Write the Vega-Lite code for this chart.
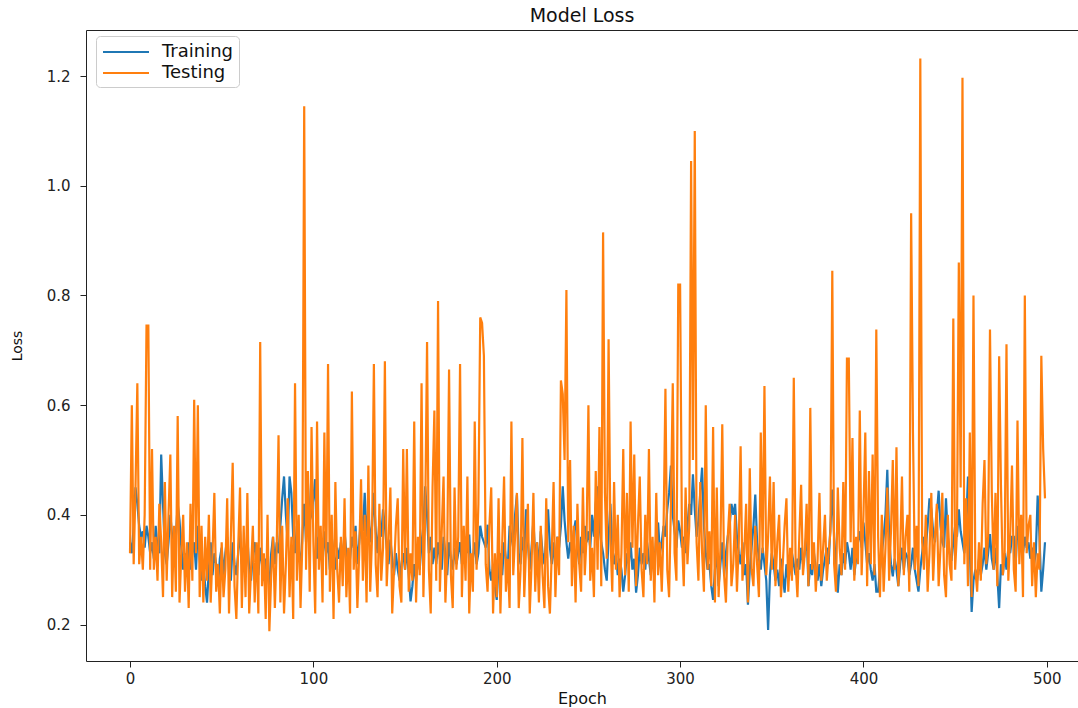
{
"$schema":"https://vega.github.io/schema/vega-lite/v6.json",
"width":992,"height":631,
"autosize":{"type":"none"},
"padding":{"left":86,"top":30,"right":0,"bottom":47},
"background":"white",
"title":{"text":"Model Loss","fontSize":19,"font":"DejaVu Sans","fontWeight":"normal","color":"#111","offset":-11,"baseline":"alphabetic","frame":"group","anchor":"middle"},
"data":{"values":[
{"e":0,"Training":0.35,"Testing":0.33},{"e":1,"Training":0.33,"Testing":0.60},{"e":2,"Training":0.38,"Testing":0.31},{"e":3,"Training":0.45,"Testing":0.45},{"e":4,"Training":0.42,"Testing":0.64},{"e":5,"Training":0.38,"Testing":0.31},{"e":6,"Training":0.36,"Testing":0.36},{"e":7,"Training":0.37,"Testing":0.30},{"e":8,"Training":0.34,"Testing":0.40},{"e":9,"Training":0.38,"Testing":0.745},
{"e":10,"Training":0.36,"Testing":0.745},{"e":11,"Training":0.33,"Testing":0.30},{"e":12,"Training":0.35,"Testing":0.52},{"e":13,"Training":0.32,"Testing":0.30},{"e":14,"Training":0.38,"Testing":0.36},{"e":15,"Training":0.34,"Testing":0.28},{"e":16,"Training":0.33,"Testing":0.42},{"e":17,"Training":0.51,"Testing":0.35},{"e":18,"Training":0.42,"Testing":0.25},{"e":19,"Training":0.33,"Testing":0.46},
{"e":20,"Training":0.31,"Testing":0.28},{"e":21,"Training":0.35,"Testing":0.40},{"e":22,"Training":0.40,"Testing":0.51},{"e":23,"Training":0.36,"Testing":0.25},{"e":24,"Training":0.31,"Testing":0.38},{"e":25,"Training":0.36,"Testing":0.26},{"e":26,"Training":0.42,"Testing":0.58},{"e":27,"Training":0.39,"Testing":0.24},{"e":28,"Training":0.34,"Testing":0.33},{"e":29,"Training":0.30,"Testing":0.40},
{"e":30,"Training":0.33,"Testing":0.26},{"e":31,"Training":0.29,"Testing":0.35},{"e":32,"Training":0.35,"Testing":0.23},{"e":33,"Training":0.30,"Testing":0.42},{"e":34,"Training":0.33,"Testing":0.28},{"e":35,"Training":0.35,"Testing":0.61},{"e":36,"Training":0.30,"Testing":0.33},{"e":37,"Training":0.38,"Testing":0.60},{"e":38,"Training":0.32,"Testing":0.25},{"e":39,"Training":0.28,"Testing":0.38},
{"e":40,"Training":0.31,"Testing":0.24},{"e":41,"Training":0.27,"Testing":0.36},{"e":42,"Training":0.24,"Testing":0.28},{"e":43,"Training":0.30,"Testing":0.40},{"e":44,"Training":0.35,"Testing":0.24},{"e":45,"Training":0.29,"Testing":0.33},{"e":46,"Training":0.33,"Testing":0.44},{"e":47,"Training":0.31,"Testing":0.26},{"e":48,"Training":0.27,"Testing":0.31},{"e":49,"Training":0.32,"Testing":0.22},
{"e":50,"Training":0.34,"Testing":0.35},{"e":51,"Training":0.29,"Testing":0.25},{"e":52,"Training":0.33,"Testing":0.30},{"e":53,"Training":0.36,"Testing":0.43},{"e":54,"Training":0.30,"Testing":0.22},{"e":55,"Training":0.28,"Testing":0.36},{"e":56,"Training":0.35,"Testing":0.495},{"e":57,"Training":0.31,"Testing":0.27},{"e":58,"Training":0.29,"Testing":0.21},{"e":59,"Training":0.33,"Testing":0.34},
{"e":60,"Training":0.37,"Testing":0.45},{"e":61,"Training":0.31,"Testing":0.23},{"e":62,"Training":0.34,"Testing":0.38},{"e":63,"Training":0.29,"Testing":0.25},{"e":64,"Training":0.36,"Testing":0.44},{"e":65,"Training":0.30,"Testing":0.22},{"e":66,"Training":0.28,"Testing":0.30},{"e":67,"Training":0.33,"Testing":0.38},{"e":68,"Training":0.35,"Testing":0.24},{"e":69,"Training":0.30,"Testing":0.35},
{"e":70,"Training":0.29,"Testing":0.22},{"e":71,"Training":0.34,"Testing":0.715},{"e":72,"Training":0.31,"Testing":0.27},{"e":73,"Training":0.28,"Testing":0.33},{"e":74,"Training":0.32,"Testing":0.21},{"e":75,"Training":0.30,"Testing":0.40},{"e":76,"Training":0.27,"Testing":0.188},{"e":77,"Training":0.33,"Testing":0.29},{"e":78,"Training":0.36,"Testing":0.36},{"e":79,"Training":0.31,"Testing":0.23},
{"e":80,"Training":0.35,"Testing":0.34},{"e":81,"Training":0.33,"Testing":0.545},{"e":82,"Training":0.38,"Testing":0.24},{"e":83,"Training":0.43,"Testing":0.38},{"e":84,"Training":0.47,"Testing":0.22},{"e":85,"Training":0.40,"Testing":0.31},{"e":86,"Training":0.35,"Testing":0.43},{"e":87,"Training":0.47,"Testing":0.25},{"e":88,"Training":0.44,"Testing":0.36},{"e":89,"Training":0.36,"Testing":0.21},
{"e":90,"Training":0.33,"Testing":0.64},{"e":91,"Training":0.38,"Testing":0.28},{"e":92,"Training":0.34,"Testing":0.40},{"e":93,"Training":0.30,"Testing":0.23},{"e":94,"Training":0.36,"Testing":0.35},{"e":95,"Training":0.42,"Testing":1.145},{"e":96,"Training":0.35,"Testing":0.30},{"e":97,"Training":0.46,"Testing":0.48},{"e":98,"Training":0.39,"Testing":0.26},{"e":99,"Training":0.40,"Testing":0.56},
{"e":100,"Training":0.43,"Testing":0.35},{"e":101,"Training":0.465,"Testing":0.22},{"e":102,"Training":0.32,"Testing":0.57},{"e":103,"Training":0.36,"Testing":0.30},{"e":104,"Training":0.34,"Testing":0.38},{"e":105,"Training":0.31,"Testing":0.24},{"e":106,"Training":0.37,"Testing":0.55},{"e":107,"Training":0.33,"Testing":0.29},{"e":108,"Training":0.35,"Testing":0.675},{"e":109,"Training":0.30,"Testing":0.26},
{"e":110,"Training":0.36,"Testing":0.40},{"e":111,"Training":0.33,"Testing":0.21},{"e":112,"Training":0.30,"Testing":0.46},{"e":113,"Training":0.34,"Testing":0.30},{"e":114,"Training":0.32,"Testing":0.24},{"e":115,"Training":0.35,"Testing":0.36},{"e":116,"Training":0.31,"Testing":0.27},{"e":117,"Training":0.37,"Testing":0.43},{"e":118,"Training":0.33,"Testing":0.25},{"e":119,"Training":0.29,"Testing":0.34},
{"e":120,"Training":0.32,"Testing":0.22},{"e":121,"Training":0.36,"Testing":0.625},{"e":122,"Training":0.34,"Testing":0.30},{"e":123,"Training":0.38,"Testing":0.37},{"e":124,"Training":0.31,"Testing":0.23},{"e":125,"Training":0.35,"Testing":0.33},{"e":126,"Training":0.40,"Testing":0.465},{"e":127,"Training":0.37,"Testing":0.28},{"e":128,"Training":0.44,"Testing":0.40},{"e":129,"Training":0.36,"Testing":0.24},
{"e":130,"Training":0.41,"Testing":0.49},{"e":131,"Training":0.35,"Testing":0.26},{"e":132,"Training":0.38,"Testing":0.36},{"e":133,"Training":0.44,"Testing":0.675},{"e":134,"Training":0.37,"Testing":0.31},{"e":135,"Training":0.33,"Testing":0.25},{"e":136,"Training":0.39,"Testing":0.42},{"e":137,"Training":0.36,"Testing":0.28},{"e":138,"Training":0.41,"Testing":0.34},{"e":139,"Training":0.38,"Testing":0.68},
{"e":140,"Training":0.34,"Testing":0.27},{"e":141,"Training":0.31,"Testing":0.35},{"e":142,"Training":0.355,"Testing":0.45},{"e":143,"Training":0.32,"Testing":0.22},{"e":144,"Training":0.29,"Testing":0.30},{"e":145,"Training":0.33,"Testing":0.38},{"e":146,"Training":0.30,"Testing":0.43},{"e":147,"Training":0.28,"Testing":0.27},{"e":148,"Training":0.31,"Testing":0.24},{"e":149,"Training":0.33,"Testing":0.52},
{"e":150,"Training":0.30,"Testing":0.30},{"e":151,"Training":0.34,"Testing":0.52},{"e":152,"Training":0.29,"Testing":0.26},{"e":153,"Training":0.242,"Testing":0.33},{"e":154,"Training":0.27,"Testing":0.28},{"e":155,"Training":0.31,"Testing":0.57},{"e":156,"Training":0.28,"Testing":0.24},{"e":157,"Training":0.33,"Testing":0.36},{"e":158,"Training":0.30,"Testing":0.29},{"e":159,"Training":0.35,"Testing":0.64},
{"e":160,"Training":0.38,"Testing":0.25},{"e":161,"Training":0.452,"Testing":0.40},{"e":162,"Training":0.40,"Testing":0.715},{"e":163,"Training":0.33,"Testing":0.30},{"e":164,"Training":0.36,"Testing":0.22},{"e":165,"Training":0.31,"Testing":0.45},{"e":166,"Training":0.34,"Testing":0.59},{"e":167,"Training":0.31,"Testing":0.28},{"e":168,"Training":0.35,"Testing":0.79},{"e":169,"Training":0.32,"Testing":0.26},
{"e":170,"Training":0.30,"Testing":0.37},{"e":171,"Training":0.36,"Testing":0.47},{"e":172,"Training":0.33,"Testing":0.24},{"e":173,"Training":0.29,"Testing":0.33},{"e":174,"Training":0.35,"Testing":0.665},{"e":175,"Training":0.32,"Testing":0.29},{"e":176,"Training":0.30,"Testing":0.23},{"e":177,"Training":0.34,"Testing":0.45},{"e":178,"Training":0.31,"Testing":0.30},{"e":179,"Training":0.33,"Testing":0.36},
{"e":180,"Training":0.35,"Testing":0.675},{"e":181,"Training":0.31,"Testing":0.25},{"e":182,"Training":0.34,"Testing":0.38},{"e":183,"Training":0.36,"Testing":0.28},{"e":184,"Training":0.33,"Testing":0.47},{"e":185,"Training":0.364,"Testing":0.22},{"e":186,"Training":0.30,"Testing":0.33},{"e":187,"Training":0.32,"Testing":0.26},{"e":188,"Training":0.35,"Testing":0.57},{"e":189,"Training":0.31,"Testing":0.30},
{"e":190,"Training":0.33,"Testing":0.42},{"e":191,"Training":0.38,"Testing":0.76},{"e":192,"Training":0.36,"Testing":0.75},{"e":193,"Training":0.35,"Testing":0.69},{"e":194,"Training":0.34,"Testing":0.31},{"e":195,"Training":0.382,"Testing":0.26},{"e":196,"Training":0.30,"Testing":0.38},{"e":197,"Training":0.28,"Testing":0.45},{"e":198,"Training":0.31,"Testing":0.22},{"e":199,"Training":0.27,"Testing":0.33},
{"e":200,"Training":0.245,"Testing":0.25},{"e":201,"Training":0.31,"Testing":0.43},{"e":202,"Training":0.33,"Testing":0.22},{"e":203,"Training":0.29,"Testing":0.35},{"e":204,"Training":0.35,"Testing":0.47},{"e":205,"Training":0.32,"Testing":0.26},{"e":206,"Training":0.30,"Testing":0.32},{"e":207,"Training":0.38,"Testing":0.23},{"e":208,"Training":0.36,"Testing":0.57},{"e":209,"Training":0.34,"Testing":0.29},
{"e":210,"Training":0.40,"Testing":0.36},{"e":211,"Training":0.437,"Testing":0.44},{"e":212,"Training":0.33,"Testing":0.23},{"e":213,"Training":0.31,"Testing":0.30},{"e":214,"Training":0.36,"Testing":0.54},{"e":215,"Training":0.33,"Testing":0.25},{"e":216,"Training":0.41,"Testing":0.34},{"e":217,"Training":0.35,"Testing":0.42},{"e":218,"Training":0.30,"Testing":0.22},{"e":219,"Training":0.34,"Testing":0.31},
{"e":220,"Training":0.39,"Testing":0.44},{"e":221,"Training":0.32,"Testing":0.26},{"e":222,"Training":0.35,"Testing":0.35},{"e":223,"Training":0.30,"Testing":0.24},{"e":224,"Training":0.37,"Testing":0.38},{"e":225,"Training":0.33,"Testing":0.29},{"e":226,"Training":0.31,"Testing":0.23},{"e":227,"Training":0.36,"Testing":0.43},{"e":228,"Training":0.41,"Testing":0.27},{"e":229,"Training":0.34,"Testing":0.22},
{"e":230,"Training":0.31,"Testing":0.33},{"e":231,"Training":0.35,"Testing":0.46},{"e":232,"Training":0.30,"Testing":0.25},{"e":233,"Training":0.36,"Testing":0.36},{"e":234,"Training":0.34,"Testing":0.29},{"e":235,"Training":0.38,"Testing":0.645},{"e":236,"Training":0.452,"Testing":0.62},{"e":237,"Training":0.39,"Testing":0.50},{"e":238,"Training":0.35,"Testing":0.81},{"e":239,"Training":0.32,"Testing":0.35},
{"e":240,"Training":0.35,"Testing":0.50},{"e":241,"Training":0.33,"Testing":0.27},{"e":242,"Training":0.37,"Testing":0.38},{"e":243,"Training":0.39,"Testing":0.24},{"e":244,"Training":0.34,"Testing":0.42},{"e":245,"Training":0.31,"Testing":0.31},{"e":246,"Training":0.36,"Testing":0.26},{"e":247,"Training":0.33,"Testing":0.45},{"e":248,"Training":0.38,"Testing":0.29},{"e":249,"Training":0.35,"Testing":0.36},
{"e":250,"Training":0.37,"Testing":0.60},{"e":251,"Training":0.34,"Testing":0.28},{"e":252,"Training":0.40,"Testing":0.34},{"e":253,"Training":0.36,"Testing":0.25},{"e":254,"Training":0.42,"Testing":0.48},{"e":255,"Training":0.452,"Testing":0.30},{"e":256,"Training":0.38,"Testing":0.56},{"e":257,"Training":0.35,"Testing":0.27},{"e":258,"Training":0.33,"Testing":0.915},{"e":259,"Training":0.30,"Testing":0.44},
{"e":260,"Training":0.28,"Testing":0.32},{"e":261,"Training":0.36,"Testing":0.72},{"e":262,"Training":0.42,"Testing":0.36},{"e":263,"Training":0.34,"Testing":0.26},{"e":264,"Training":0.31,"Testing":0.46},{"e":265,"Training":0.33,"Testing":0.30},{"e":266,"Training":0.29,"Testing":0.40},{"e":267,"Training":0.32,"Testing":0.25},{"e":268,"Training":0.30,"Testing":0.33},{"e":269,"Training":0.26,"Testing":0.52},
{"e":270,"Training":0.29,"Testing":0.29},{"e":271,"Training":0.33,"Testing":0.44},{"e":272,"Training":0.31,"Testing":0.26},{"e":273,"Training":0.35,"Testing":0.57},{"e":274,"Training":0.30,"Testing":0.34},{"e":275,"Training":0.32,"Testing":0.51},{"e":276,"Training":0.258,"Testing":0.27},{"e":277,"Training":0.29,"Testing":0.38},{"e":278,"Training":0.34,"Testing":0.47},{"e":279,"Training":0.31,"Testing":0.30},
{"e":280,"Training":0.33,"Testing":0.25},{"e":281,"Training":0.30,"Testing":0.40},{"e":282,"Training":0.35,"Testing":0.31},{"e":283,"Training":0.32,"Testing":0.52},{"e":284,"Training":0.29,"Testing":0.28},{"e":285,"Training":0.34,"Testing":0.36},{"e":286,"Training":0.31,"Testing":0.24},{"e":287,"Training":0.36,"Testing":0.44},{"e":288,"Training":0.386,"Testing":0.29},{"e":289,"Training":0.33,"Testing":0.35},
{"e":290,"Training":0.35,"Testing":0.26},{"e":291,"Training":0.38,"Testing":0.38},{"e":292,"Training":0.36,"Testing":0.63},{"e":293,"Training":0.41,"Testing":0.30},{"e":294,"Training":0.44,"Testing":0.25},{"e":295,"Training":0.49,"Testing":0.42},{"e":296,"Training":0.40,"Testing":0.64},{"e":297,"Training":0.37,"Testing":0.33},{"e":298,"Training":0.34,"Testing":0.28},{"e":299,"Training":0.39,"Testing":0.82},
{"e":300,"Training":0.37,"Testing":0.82},{"e":301,"Training":0.34,"Testing":0.36},{"e":302,"Training":0.36,"Testing":0.27},{"e":303,"Training":0.33,"Testing":0.45},{"e":304,"Training":0.38,"Testing":0.31},{"e":305,"Training":0.42,"Testing":0.38},{"e":306,"Training":0.40,"Testing":1.045},{"e":307,"Training":0.474,"Testing":0.50},{"e":308,"Training":0.41,"Testing":1.10},{"e":309,"Training":0.36,"Testing":0.35},
{"e":310,"Training":0.39,"Testing":0.28},{"e":311,"Training":0.44,"Testing":0.46},{"e":312,"Training":0.486,"Testing":0.33},{"e":313,"Training":0.38,"Testing":0.26},{"e":314,"Training":0.33,"Testing":0.60},{"e":315,"Training":0.30,"Testing":0.30},{"e":316,"Training":0.31,"Testing":0.37},{"e":317,"Training":0.27,"Testing":0.27},{"e":318,"Training":0.245,"Testing":0.56},{"e":319,"Training":0.30,"Testing":0.24},
{"e":320,"Training":0.33,"Testing":0.45},{"e":321,"Training":0.27,"Testing":0.25},{"e":322,"Training":0.31,"Testing":0.34},{"e":323,"Training":0.35,"Testing":0.565},{"e":324,"Training":0.29,"Testing":0.29},{"e":325,"Training":0.33,"Testing":0.24},{"e":326,"Training":0.36,"Testing":0.36},{"e":327,"Training":0.38,"Testing":0.42},{"e":328,"Training":0.42,"Testing":0.27},{"e":329,"Training":0.40,"Testing":0.31},
{"e":330,"Training":0.42,"Testing":0.40},{"e":331,"Training":0.36,"Testing":0.26},{"e":332,"Training":0.33,"Testing":0.35},{"e":333,"Training":0.31,"Testing":0.525},{"e":334,"Training":0.35,"Testing":0.28},{"e":335,"Training":0.29,"Testing":0.33},{"e":336,"Training":0.31,"Testing":0.42},{"e":337,"Training":0.236,"Testing":0.24},{"e":338,"Training":0.30,"Testing":0.485},{"e":339,"Training":0.34,"Testing":0.30},
{"e":340,"Training":0.38,"Testing":0.27},{"e":341,"Training":0.437,"Testing":0.38},{"e":342,"Training":0.35,"Testing":0.31},{"e":343,"Training":0.32,"Testing":0.25},{"e":344,"Training":0.30,"Testing":0.55},{"e":345,"Training":0.34,"Testing":0.33},{"e":346,"Training":0.31,"Testing":0.635},{"e":347,"Training":0.28,"Testing":0.29},{"e":348,"Training":0.19,"Testing":0.36},{"e":349,"Training":0.29,"Testing":0.47},
{"e":350,"Training":0.33,"Testing":0.30},{"e":351,"Training":0.31,"Testing":0.46},{"e":352,"Training":0.28,"Testing":0.27},{"e":353,"Training":0.30,"Testing":0.35},{"e":354,"Training":0.27,"Testing":0.40},{"e":355,"Training":0.32,"Testing":0.25},{"e":356,"Training":0.29,"Testing":0.31},{"e":357,"Training":0.258,"Testing":0.38},{"e":358,"Training":0.31,"Testing":0.43},{"e":359,"Training":0.28,"Testing":0.26},
{"e":360,"Training":0.30,"Testing":0.34},{"e":361,"Training":0.33,"Testing":0.28},{"e":362,"Training":0.31,"Testing":0.65},{"e":363,"Training":0.29,"Testing":0.31},{"e":364,"Training":0.32,"Testing":0.25},{"e":365,"Training":0.30,"Testing":0.36},{"e":366,"Training":0.34,"Testing":0.455},{"e":367,"Training":0.31,"Testing":0.29},{"e":368,"Training":0.33,"Testing":0.33},{"e":369,"Training":0.37,"Testing":0.42},
{"e":370,"Training":0.27,"Testing":0.27},{"e":371,"Training":0.31,"Testing":0.595},{"e":372,"Training":0.29,"Testing":0.30},{"e":373,"Training":0.33,"Testing":0.35},{"e":374,"Training":0.30,"Testing":0.26},{"e":375,"Training":0.28,"Testing":0.32},{"e":376,"Training":0.31,"Testing":0.44},{"e":377,"Training":0.27,"Testing":0.28},{"e":378,"Training":0.30,"Testing":0.34},{"e":379,"Training":0.32,"Testing":0.40},
{"e":380,"Training":0.34,"Testing":0.28},{"e":381,"Training":0.31,"Testing":0.33},{"e":382,"Training":0.38,"Testing":0.37},{"e":383,"Training":0.446,"Testing":0.845},{"e":384,"Training":0.36,"Testing":0.31},{"e":385,"Training":0.31,"Testing":0.26},{"e":386,"Training":0.258,"Testing":0.45},{"e":387,"Training":0.31,"Testing":0.34},{"e":388,"Training":0.29,"Testing":0.29},{"e":389,"Training":0.33,"Testing":0.46},
{"e":390,"Training":0.31,"Testing":0.30},{"e":391,"Training":0.35,"Testing":0.685},{"e":392,"Training":0.33,"Testing":0.685},{"e":393,"Training":0.30,"Testing":0.35},{"e":394,"Training":0.34,"Testing":0.54},{"e":395,"Training":0.29,"Testing":0.28},{"e":396,"Training":0.32,"Testing":0.36},{"e":397,"Training":0.35,"Testing":0.31},{"e":398,"Training":0.37,"Testing":0.59},{"e":399,"Training":0.34,"Testing":0.29},
{"e":400,"Training":0.386,"Testing":0.40},{"e":401,"Training":0.35,"Testing":0.55},{"e":402,"Training":0.31,"Testing":0.27},{"e":403,"Training":0.33,"Testing":0.48},{"e":404,"Training":0.30,"Testing":0.31},{"e":405,"Training":0.28,"Testing":0.51},{"e":406,"Training":0.31,"Testing":0.29},{"e":407,"Training":0.26,"Testing":0.738},{"e":408,"Training":0.26,"Testing":0.36},{"e":409,"Training":0.30,"Testing":0.25},
{"e":410,"Training":0.33,"Testing":0.40},{"e":411,"Training":0.36,"Testing":0.26},{"e":412,"Training":0.40,"Testing":0.34},{"e":413,"Training":0.482,"Testing":0.45},{"e":414,"Training":0.36,"Testing":0.28},{"e":415,"Training":0.31,"Testing":0.37},{"e":416,"Training":0.288,"Testing":0.50},{"e":417,"Training":0.32,"Testing":0.30},{"e":418,"Training":0.30,"Testing":0.523},{"e":419,"Training":0.27,"Testing":0.27},
{"e":420,"Training":0.31,"Testing":0.33},{"e":421,"Training":0.34,"Testing":0.47},{"e":422,"Training":0.30,"Testing":0.29},{"e":423,"Training":0.33,"Testing":0.36},{"e":424,"Training":0.323,"Testing":0.40},{"e":425,"Training":0.29,"Testing":0.26},{"e":426,"Training":0.31,"Testing":0.95},{"e":427,"Training":0.34,"Testing":0.55},{"e":428,"Training":0.30,"Testing":0.30},{"e":429,"Training":0.28,"Testing":0.38},
{"e":430,"Training":0.26,"Testing":0.27},{"e":431,"Training":0.30,"Testing":1.232},{"e":432,"Training":0.33,"Testing":0.35},{"e":433,"Training":0.36,"Testing":0.30},{"e":434,"Training":0.34,"Testing":0.40},{"e":435,"Training":0.38,"Testing":0.26},{"e":436,"Training":0.43,"Testing":0.33},{"e":437,"Training":0.41,"Testing":0.44},{"e":438,"Training":0.37,"Testing":0.28},{"e":439,"Training":0.35,"Testing":0.36},
{"e":440,"Training":0.40,"Testing":0.42},{"e":441,"Training":0.444,"Testing":0.27},{"e":442,"Training":0.38,"Testing":0.34},{"e":443,"Training":0.35,"Testing":0.44},{"e":444,"Training":0.34,"Testing":0.29},{"e":445,"Training":0.43,"Testing":0.25},{"e":446,"Training":0.36,"Testing":0.40},{"e":447,"Training":0.33,"Testing":0.31},{"e":448,"Training":0.316,"Testing":0.28},{"e":449,"Training":0.35,"Testing":0.758},
{"e":450,"Training":0.38,"Testing":0.30},{"e":451,"Training":0.36,"Testing":0.37},{"e":452,"Training":0.41,"Testing":0.86},{"e":453,"Training":0.37,"Testing":0.45},{"e":454,"Training":0.35,"Testing":1.197},{"e":455,"Training":0.33,"Testing":0.31},{"e":456,"Training":0.38,"Testing":0.43},{"e":457,"Training":0.47,"Testing":0.27},{"e":458,"Training":0.34,"Testing":0.55},{"e":459,"Training":0.223,"Testing":0.25},
{"e":460,"Training":0.28,"Testing":0.80},{"e":461,"Training":0.30,"Testing":0.30},{"e":462,"Training":0.28,"Testing":0.26},{"e":463,"Training":0.32,"Testing":0.35},{"e":464,"Training":0.29,"Testing":0.28},{"e":465,"Training":0.31,"Testing":0.42},{"e":466,"Training":0.34,"Testing":0.50},{"e":467,"Training":0.30,"Testing":0.31},{"e":468,"Training":0.33,"Testing":0.36},{"e":469,"Training":0.365,"Testing":0.738},
{"e":470,"Training":0.32,"Testing":0.44},{"e":471,"Training":0.30,"Testing":0.30},{"e":472,"Training":0.34,"Testing":0.44},{"e":473,"Training":0.29,"Testing":0.27},{"e":474,"Training":0.23,"Testing":0.689},{"e":475,"Training":0.31,"Testing":0.45},{"e":476,"Training":0.29,"Testing":0.29},{"e":477,"Training":0.33,"Testing":0.33},{"e":478,"Training":0.30,"Testing":0.711},{"e":479,"Training":0.34,"Testing":0.28},
{"e":480,"Training":0.33,"Testing":0.36},{"e":481,"Training":0.36,"Testing":0.49},{"e":482,"Training":0.36,"Testing":0.30},{"e":483,"Training":0.31,"Testing":0.26},{"e":484,"Training":0.38,"Testing":0.572},{"e":485,"Training":0.35,"Testing":0.31},{"e":486,"Training":0.37,"Testing":0.40},{"e":487,"Training":0.33,"Testing":0.25},{"e":488,"Training":0.36,"Testing":0.80},{"e":489,"Training":0.34,"Testing":0.33},
{"e":490,"Training":0.35,"Testing":0.38},{"e":491,"Training":0.32,"Testing":0.40},{"e":492,"Training":0.34,"Testing":0.27},{"e":493,"Training":0.31,"Testing":0.35},{"e":494,"Training":0.33,"Testing":0.25},{"e":495,"Training":0.435,"Testing":0.33},{"e":496,"Training":0.36,"Testing":0.30},{"e":497,"Training":0.26,"Testing":0.69},{"e":498,"Training":0.30,"Testing":0.52},{"e":499,"Training":0.35,"Testing":0.43}
]},
"transform":[{"fold":["Training","Testing"],"as":["series","loss"]}],
"mark":{"type":"line","strokeWidth":2.2,"clip":true},
"encoding":{
"x":{"field":"e","type":"quantitative","scale":{"domain":[-24,517],"nice":false,"zero":false},
"axis":{"title":"Epoch","values":[0,100,200,300,400,500],"labelPadding":4,"titleFontSize":16,"titlePadding":4}},
"y":{"field":"loss","type":"quantitative","scale":{"domain":[0.1335,1.284],"nice":false,"zero":false},
"axis":{"title":"Loss","values":[0.2,0.4,0.6,0.8,1.0,1.2],"format":".1f","labelPadding":10,"titleFontSize":14,"titlePadding":22}},
"color":{"field":"series","type":"nominal","scale":{"domain":["Training","Testing"],"range":["#1f77b4","#ff7f0e"]},
"legend":{"title":null,"orient":"none","legendX":10,"legendY":6,"symbolType":"M-2.3,0H2.3","symbolSize":400,"symbolStrokeWidth":2,"symbolOffset":14,"labelFontSize":18,"labelFont":"DejaVu Sans","labelColor":"#111","labelOffset":25,"padding":5,"rowPadding":1,"strokeColor":"#cccccc","fillColor":"white","cornerRadius":4}}
},
"config":{
"view":{"stroke":"#222","strokeWidth":1},
"axis":{"domain":false,"grid":false,"ticks":true,"tickColor":"#222","tickSize":6,"tickWidth":1,"labelFont":"DejaVu Sans","labelFontSize":15,"labelColor":"#222","titleFont":"DejaVu Sans","titleFontWeight":"normal","titleColor":"#111"}
}
}
